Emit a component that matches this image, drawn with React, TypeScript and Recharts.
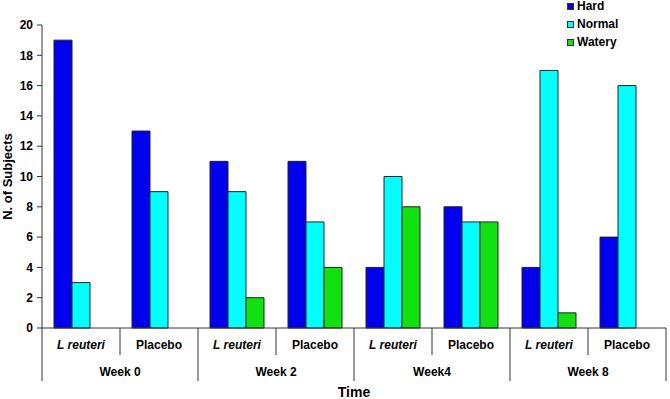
import { BarChart, Bar, XAxis, YAxis, Legend, Label } from 'recharts';

const categories = ['L reuteri', 'Placebo', 'L reuteri', 'Placebo', 'L reuteri', 'Placebo', 'L reuteri', 'Placebo'];
const weeks = ['Week 0', 'Week 0', 'Week 2', 'Week 2', 'Week4', 'Week4', 'Week 8', 'Week 8'];
const hard = [19, 13, 11, 11, 4, 8, 4, 6];
const normal = [3, 9, 9, 7, 10, 7, 17, 16];
const watery = [0, 0, 2, 4, 8, 7, 1, 0];
const yTicks = [0, 2, 4, 6, 8, 10, 12, 14, 16, 18, 20];

const W = 670;
const H = 399;
const MARGIN = { top: 25, right: 4, left: 0, bottom: 0 };
const Y_AXIS_W = 42;
const X_AXIS_H = 71;
const BAND = (W - MARGIN.left - MARGIN.right - Y_AXIS_W) / categories.length;
const FONT = '"Liberation Sans", Arial, sans-serif';
const AXIS = '#333';

const data = categories.map((cat, i) => ({
  key: `${weeks[i]}|${cat}`,
  cat,
  week: weeks[i],
  Hard: hard[i],
  Normal: normal[i],
  Watery: watery[i],
}));

function CategoryTick({ x, y, payload }: any) {
  const i = payload.index;
  const row = data[i];
  const left = x - BAND / 2;
  const right = x + BAND / 2;
  const weekStart = i % 2 === 0;
  return (
    <g>
      <line x1={left} x2={left} y1={y} y2={y + (weekStart ? 53 : 27)} stroke={AXIS} />
      {i === data.length - 1 && <line x1={right} x2={right} y1={y} y2={y + 53} stroke={AXIS} />}
      <text
        x={x}
        y={y + 21}
        textAnchor="middle"
        fontFamily={FONT}
        fontSize={12}
        fontWeight="bold"
        fontStyle={row.cat === 'L reuteri' ? 'italic' : 'normal'}
        fill="#000"
      >
        {row.cat}
      </text>
      {!weekStart && (
        <text x={left} y={y + 48} textAnchor="middle" fontFamily={FONT} fontSize={12} fontWeight="bold" fill="#000">
          {row.week}
        </text>
      )}
    </g>
  );
}

function LegendContent({ payload }: any) {
  return (
    <div style={{ fontFamily: FONT, fontSize: 12, fontWeight: 'bold' }}>
      {(payload || []).map((p: any) => (
        <div key={p.value} style={{ display: 'flex', alignItems: 'center', height: 18 }}>
          <span style={{ width: 5, height: 5, background: p.color, border: '1px solid #333', marginRight: 3 }} />
          <span>{p.value}</span>
        </div>
      ))}
    </div>
  );
}

export default function App() {
  return (
    <div style={{ position: 'absolute', left: 0, top: 0, background: '#fff' }}>
      <BarChart width={W} height={H} data={data} margin={MARGIN} barCategoryGap={12} barGap={0}>
        <XAxis
          dataKey="key"
          height={X_AXIS_H}
          interval={0}
          tickLine={false}
          tickSize={0}
          tickMargin={0}
          axisLine={{ stroke: AXIS }}
          tick={<CategoryTick />}
        >
          <Label
            content={({ viewBox }: any) => (
              <text
                x={viewBox.x + viewBox.width / 2}
                y={viewBox.y + 69}
                textAnchor="middle"
                fontFamily={FONT}
                fontSize={14}
                fontWeight="bold"
                fill="#000"
              >
                Time
              </text>
            )}
          />
        </XAxis>
        <YAxis
          width={Y_AXIS_W}
          domain={[0, 20]}
          ticks={yTicks}
          interval={0}
          tickSize={5}
          tickMargin={4}
          axisLine={{ stroke: AXIS }}
          tickLine={{ stroke: AXIS }}
          tick={{ fill: '#000', fontSize: 12, fontWeight: 'bold', fontFamily: FONT }}
        >
          <Label
            content={({ viewBox }: any) => {
              const cx = 9;
              const cy = viewBox.y + viewBox.height / 2;
              return (
                <text
                  x={cx}
                  y={cy}
                  transform={`rotate(-90 ${cx} ${cy})`}
                  textAnchor="middle"
                  dominantBaseline="middle"
                  fontFamily={FONT}
                  fontSize={13}
                  fontWeight="bold"
                  fill="#000"
                >
                  N. of Subjects
                </text>
              );
            }}
          />
        </YAxis>
        <Legend
          layout="vertical"
          align="center"
          verticalAlign="middle"
          wrapperStyle={{ top: -3, left: 567, width: 100 }}
          content={<LegendContent />}
        />
        <Bar dataKey="Hard" fill="#0000ee" stroke="#222" strokeWidth={1} isAnimationActive={false} />
        <Bar dataKey="Normal" fill="#00ffff" stroke="#222" strokeWidth={1} isAnimationActive={false} />
        <Bar dataKey="Watery" fill="#11e011" stroke="#222" strokeWidth={1} isAnimationActive={false} />
      </BarChart>
    </div>
  );
}
